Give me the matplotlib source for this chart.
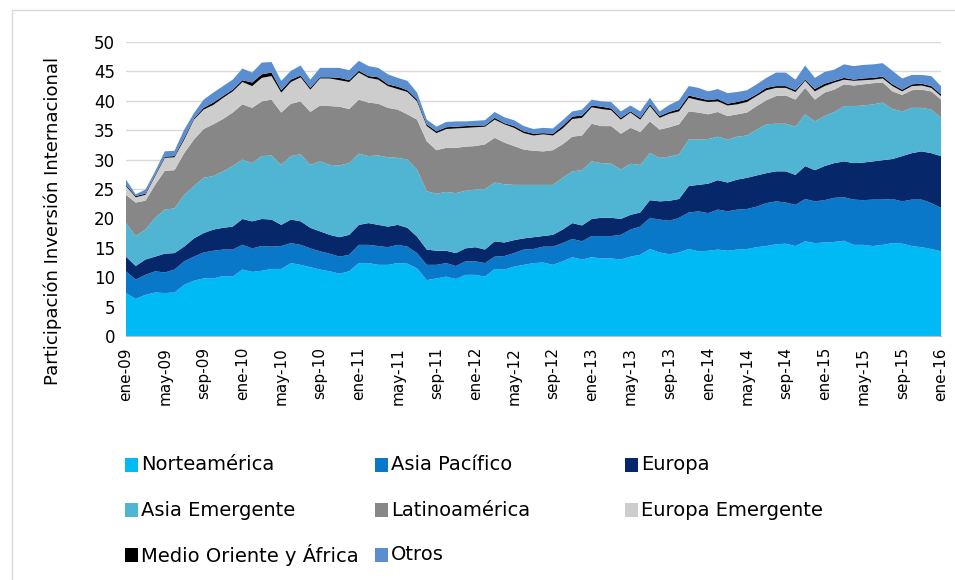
import numpy as np
import matplotlib
matplotlib.use('Agg')
import matplotlib.pyplot as plt
from matplotlib.patches import Rectangle

# monthly, ene-09 .. ene-16 (85 points), labels every 4 months
tick_labels = ['ene-09', 'may-09', 'sep-09', 'ene-10', 'may-10', 'sep-10', 'ene-11', 'may-11',
               'sep-11', 'ene-12', 'may-12', 'sep-12', 'ene-13', 'may-13', 'sep-13', 'ene-14',
               'may-14', 'sep-14', 'ene-15', 'may-15', 'sep-15', 'ene-16']

norteamerica = [7.3, 6.3, 7.0, 7.4, 7.3, 7.4, 8.7, 9.4, 9.8, 9.8, 10.2, 10.1, 11.3, 10.9, 11.1,
                11.4, 11.4, 12.4, 12.1, 11.7, 11.3, 11.0, 10.6, 11.0, 12.4, 12.4, 12.1, 12.1, 12.4,
                12.3, 11.5, 9.5, 9.8, 10.1, 9.7, 10.4, 10.4, 10.1, 11.4, 11.3, 11.8, 12.1, 12.4,
                12.5, 12.1, 12.7, 13.4, 13.0, 13.4, 13.2, 13.2, 13.0, 13.5, 13.8, 14.8, 14.2, 13.9,
                14.2, 14.8, 14.4, 14.5, 14.7, 14.5, 14.7, 14.8, 15.1, 15.3, 15.6, 15.7, 15.3, 16.1,
                15.8, 15.9, 16.0, 16.2, 15.5, 15.5, 15.3, 15.5, 15.8, 15.7, 15.3, 15.1, 14.8, 14.4]
asia_pacifico = [3.7, 3.3, 3.4, 3.6, 3.5, 3.9, 4.0, 4.1, 4.4, 4.7, 4.5, 4.6, 4.2, 4.0, 4.2,
                 3.8, 3.9, 3.4, 3.4, 3.2, 3.1, 3.0, 2.9, 2.8, 3.1, 3.1, 3.2, 3.0, 3.1,
                 2.9, 2.6, 2.6, 2.3, 2.3, 2.2, 2.3, 2.3, 2.3, 2.1, 2.3, 2.3, 2.6, 2.4,
                 2.7, 3.1, 3.1, 3.1, 3.1, 3.6, 3.8, 3.8, 4.2, 4.6, 4.8, 5.3, 5.6, 5.7,
                 5.9, 6.2, 6.8, 6.4, 6.8, 6.7, 6.8, 6.8, 6.9, 7.3, 7.3, 7.0, 7.0, 7.2,
                 7.1, 7.2, 7.5, 7.4, 7.7, 7.6, 7.9, 7.7, 7.5, 7.2, 7.9, 8.1, 7.8, 7.4]
europa = [2.5, 2.3, 2.6, 2.5, 3.2, 2.8, 2.5, 3.1, 3.3, 3.6, 3.7, 3.9, 4.4, 4.6, 4.6,
          4.6, 3.6, 4.0, 4.0, 3.5, 3.4, 3.2, 3.3, 3.4, 3.4, 3.7, 3.6, 3.5, 3.4,
          3.2, 2.8, 2.6, 2.4, 2.1, 2.2, 2.2, 2.4, 2.3, 2.6, 2.3, 2.2, 1.9, 2.0,
          1.8, 2.0, 2.3, 2.7, 2.7, 2.9, 3.1, 3.1, 2.7, 2.5, 2.4, 3.0, 3.1, 3.4,
          3.2, 4.5, 4.5, 5.0, 5.0, 4.9, 5.1, 5.3, 5.3, 5.1, 5.1, 5.3, 5.1, 5.6,
          5.3, 5.8, 5.9, 6.1, 6.2, 6.4, 6.5, 6.7, 6.8, 7.7, 7.9, 8.2, 8.5, 8.8]
asia_emergente = [5.7, 5.1, 5.1, 6.6, 7.5, 7.6, 8.8, 8.9, 9.4, 9.1, 9.6, 10.3, 10.1, 9.9, 10.7,
                  10.9, 10.2, 10.8, 11.4, 10.7, 11.9, 11.9, 12.2, 12.2, 12.1, 11.4, 11.8, 11.8, 11.4,
                  11.6, 11.4, 9.9, 9.7, 10.0, 10.2, 9.8, 9.8, 10.3, 10.0, 9.9, 9.4, 9.1, 8.9,
                  8.7, 8.5, 8.8, 8.8, 9.4, 9.8, 9.3, 9.2, 8.4, 8.7, 8.1, 8.0, 7.4, 7.5,
                  7.6, 7.9, 7.7, 7.6, 7.4, 7.3, 7.3, 7.2, 7.8, 8.3, 8.1, 8.1, 8.2, 8.8,
                  8.3, 8.5, 8.7, 9.4, 9.7, 9.7, 9.7, 9.8, 8.5, 7.6, 7.7, 7.4, 7.4, 6.5]
latinoamerica = [4.8, 5.7, 4.9, 5.6, 6.6, 6.5, 7.1, 7.9, 8.3, 8.8, 8.9, 9.1, 9.4, 9.4, 9.3,
                 9.5, 8.9, 8.9, 9.0, 9.0, 9.5, 10.0, 10.0, 9.2, 9.2, 9.1, 8.8, 8.4, 8.2,
                 7.7, 8.5, 8.5, 7.4, 7.5, 7.7, 7.5, 7.4, 7.6, 7.6, 7.1, 6.6, 6.0, 5.8,
                 5.7, 5.9, 5.7, 5.9, 5.9, 6.4, 6.3, 6.4, 6.1, 6.1, 5.6, 5.4, 4.8, 5.0,
                 5.1, 4.8, 4.6, 4.2, 4.2, 4.0, 3.8, 3.9, 4.0, 4.1, 4.7, 4.8, 4.6, 4.5,
                 3.7, 4.0, 3.8, 3.7, 3.5, 3.6, 3.6, 3.4, 3.0, 2.8, 3.0, 3.1, 3.1, 3.1]
europa_emergente = [1.5, 0.9, 1.0, 1.5, 2.2, 2.2, 2.3, 3.4, 3.3, 3.3, 3.6, 3.6, 3.8, 3.7, 4.0,
                    4.0, 3.4, 3.7, 4.1, 3.8, 4.6, 4.7, 4.5, 4.6, 4.6, 4.2, 4.1, 3.7, 3.5,
                    3.8, 3.1, 2.6, 2.9, 3.2, 3.3, 3.2, 3.2, 3.0, 3.1, 3.1, 3.1, 2.8, 2.6,
                    2.9, 2.5, 2.7, 3.0, 3.0, 2.8, 2.9, 2.7, 2.4, 2.6, 2.1, 2.6, 2.0, 2.3,
                    2.2, 2.3, 2.1, 2.1, 1.8, 1.8, 1.7, 1.8, 1.7, 1.7, 1.4, 1.3, 1.3, 1.2,
                    1.4, 1.1, 1.2, 0.8, 0.8, 0.7, 0.6, 0.7, 0.9, 0.6, 0.7, 0.7, 0.6, 0.6]
medio_oriente_africa = [0.2, 0.2, 0.2, 0.2, 0.2, 0.2, 0.3, 0.2, 0.3, 0.4, 0.3, 0.3, 0.3, 0.6, 0.6,
                        0.6, 0.4, 0.4, 0.3, 0.3, 0.2, 0.2, 0.4, 0.3, 0.3, 0.3, 0.4, 0.3, 0.4,
                        0.3, 0.3, 0.3, 0.3, 0.3, 0.3, 0.3, 0.3, 0.2, 0.3, 0.2, 0.3, 0.3, 0.3,
                        0.2, 0.3, 0.4, 0.4, 0.4, 0.3, 0.4, 0.3, 0.3, 0.2, 0.3, 0.3, 0.3, 0.3,
                        0.4, 0.4, 0.4, 0.3, 0.4, 0.3, 0.4, 0.4, 0.3, 0.4, 0.3, 0.3, 0.3, 0.2,
                        0.4, 0.4, 0.3, 0.3, 0.2, 0.3, 0.3, 0.3, 0.3, 0.3, 0.3, 0.3, 0.3, 0.3]
otros = [0.9, 0.3, 0.7, 0.6, 0.9, 0.9, 1.4, 0.9, 1.4, 1.7, 1.7, 1.7, 2.0, 1.7, 2.0,
         1.8, 1.6, 1.5, 1.7, 1.4, 1.6, 1.6, 1.7, 1.7, 1.7, 1.7, 1.6, 1.7, 1.5,
         1.6, 1.2, 0.8, 0.8, 0.9, 0.9, 0.8, 0.8, 0.9, 1.0, 1.0, 1.0, 0.9, 0.8,
         0.9, 0.9, 1.0, 0.9, 1.0, 1.0, 0.9, 1.1, 1.1, 1.0, 1.1, 1.1, 0.8, 1.2,
         1.5, 1.6, 1.7, 1.5, 1.7, 1.8, 1.7, 1.6, 1.7, 1.7, 2.3, 2.3, 1.8, 2.4,
         1.9, 2.0, 1.9, 2.3, 2.3, 2.3, 2.3, 2.3, 2.3, 1.9, 1.6, 1.5, 1.7, 1.4]

nombres = ['Norteamérica', 'Asia Pacífico', 'Europa', 'Asia Emergente', 'Latinoamérica',
           'Europa Emergente', 'Medio Oriente y África', 'Otros']
series = [norteamerica, asia_pacifico, europa, asia_emergente, latinoamerica,
          europa_emergente, medio_oriente_africa, otros]
colores = ['#00BAF5', '#0A78C8', '#062769', '#50B5D2', '#878787', '#CDCDCD', '#000000', '#5A8ED0']

x = np.arange(len(norteamerica))

fig = plt.figure(figsize=(9.55, 5.8), dpi=100)
ax = fig.add_axes([126/955, 1 - 336/580, 815/955, 294/580])

ax.stackplot(x, *series, colors=colores, linewidth=0, zorder=2)

ax.set_xlim(0, len(x) - 1)
ax.set_ylim(0, 50)
ax.set_yticks(np.arange(0, 51, 5))
ax.yaxis.grid(True, color='#D9D9D9', linewidth=1, zorder=0)
ax.set_axisbelow(True)
ax.set_xticks(x[::4])
ax.set_xticklabels(tick_labels, rotation=90)
ax.tick_params(axis='x', length=0, pad=8, labelsize=11)
ax.tick_params(axis='y', length=0, pad=8, labelsize=12)
for s in ['top', 'right', 'left']:
    ax.spines[s].set_visible(False)
ax.spines['bottom'].set_color('#BFBFBF')

ax.set_ylabel('Participación Inversión Internacional', fontsize=13)
ax.yaxis.set_label_coords(-0.079, 0.39)

# legend, 3 columns filled row by row
col_x = [125, 375, 625]
row_y = [465, 510, 555]
for k, (nom, col) in enumerate(zip(nombres, colores)):
    r, c = divmod(k, 3)
    px, py = col_x[c], row_y[r]
    fig.patches.append(Rectangle((px / 955, 1 - (py + 7) / 580), 13 / 955, 14 / 580,
                                 transform=fig.transFigure, facecolor=col, edgecolor='none'))
    fig.text((px + 16) / 955, 1 - py / 580, nom, fontsize=14, va='center', ha='left')

# chart frame
fig.patches.append(Rectangle((12 / 955, -0.01), 1.0, 1 - 10 / 580 + 0.01, transform=fig.transFigure,
                             facecolor='none', edgecolor='#D9D9D9', linewidth=1))

fig.savefig('out.png', dpi=100)
